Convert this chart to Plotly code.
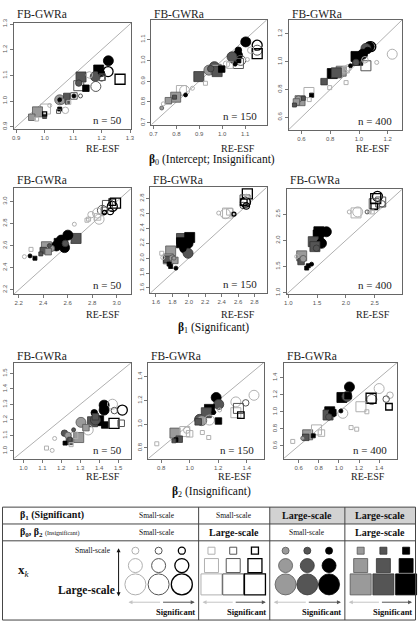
import plotly.graph_objects as go

W, H = 419, 627
SERIF = "Liberation Serif, Times New Roman, serif"
SANS = "Liberation Sans, Arial, sans-serif"

# ---------------- data (group code: kind oc/os/fc/fs + significance 0/1/2 + scale S/M/L) -------------
P1_X = [1.224, 1.223, 1.265, 1.190, 1.178, 1.128, 1.120, 1.200, 1.180, 1.145, 1.120, 1.157, 1.202, 1.200,
        1.053, 1.053, 1.078, 1.080, 1.103, 1.103, 1.126, 1.085, 1.073, 1.053, 1.049, 1.018, 1.003, 0.975,
        0.955, 0.972, 1.000, 1.000, 1.060]
P1_Y = [1.157, 1.115, 1.085, 1.121, 1.096, 1.094, 1.070, 1.108, 1.057, 1.050, 1.060, 1.102, 1.093, 1.090,
        1.005, 1.005, 1.018, 0.995, 1.020, 1.020, 1.020, 0.995, 0.964, 0.969, 0.960, 0.983, 0.969, 0.958,
        0.937, 0.930, 0.940, 0.950, 1.000]
P1_G = ["fc2L", "oc2L", "os2L", "fs2L", "fc1L", "fs1L", "fc1M", "fc2M", "oc1L", "fs2M", "os1L", "oc0M", "os1M", "oc1M",
        "fc0L", "fc2S", "fs1M", "fs1S", "os1M", "fc2S", "oc1S", "os0S", "oc0M", "fs2S", "os1S", "oc0S", "os0L", "fs0L",
        "fs0M", "os0S", "fs1S", "os2S", "fc0M"]

P2_X = [1.103, 1.153, 1.153, 1.153, 1.125, 1.071, 1.067, 1.060, 1.043, 1.110, 1.071, 1.081, 1.057, 1.034,
        1.019, 0.966, 0.942, 0.974, 0.978, 0.998, 0.950, 0.898, 0.927, 0.870, 0.822, 0.836, 0.797, 0.792,
        0.840, 0.765, 0.736, 0.743]
P2_Y = [1.089, 1.073, 1.049, 1.033, 1.049, 1.049, 1.025, 1.012, 1.017, 1.004, 0.985, 1.000, 0.982, 0.977,
        0.982, 0.970, 0.953, 0.957, 0.946, 0.958, 0.960, 0.922, 0.890, 0.866, 0.855, 0.855, 0.823, 0.823,
        0.834, 0.806, 0.771, 0.791]
P2_G = ["fc2L", "oc2L", "oc1L", "os2L", "oc0M", "fc2M", "fc2L", "fs2L", "fc1L", "oc0S", "os1L", "oc1L", "fc2S", "os0M",
        "oc0M", "fc1L", "fc0L", "fs0L", "fs1L", "fs2M", "fc1M", "fs1L", "os0S", "oc0S", "os0L", "oc0L", "fs0L", "fs1S",
        "fc2S", "fs0M", "fc0S", "oc0S"]

P3_X = [1.071, 1.082, 1.048, 1.231, 1.123, 0.979, 1.025, 0.991, 1.048, 1.041, 0.979, 0.941, 0.910, 0.925,
        0.876, 0.814, 0.842, 0.910, 0.757, 0.796, 0.652, 0.670, 0.590, 0.613, 0.579, 0.654, 0.551, 0.565, 1.060]
P3_Y = [1.107, 1.107, 1.095, 1.053, 0.994, 1.037, 1.053, 1.009, 0.970, 1.013, 0.994, 0.970, 0.942, 0.955,
        0.931, 0.914, 0.919, 0.849, 0.856, 0.813, 0.778, 0.759, 0.719, 0.736, 0.731, 0.727, 0.688, 0.710, 1.080]
P3_G = ["fc2L", "oc2L", "fc1L", "oc0L", "oc0S", "fs2L", "fc2L", "fs2L", "os1L", "oc0M", "fc1M", "fc2S", "os0M", "oc0M",
        "fs0L", "fs2L", "fs1L", "os0S", "fs1M", "os0S", "os0L", "fs2S", "fs0L", "fs1S", "fc0M", "os0S", "fs1S", "fs0M", "fc2M"]

P4_X = [2.964, 2.990, 2.924, 2.883, 2.964, 2.947, 2.900, 2.843, 2.856, 2.843, 2.757, 2.790, 2.654, 2.770,
        2.900, 2.668, 2.601, 2.547, 2.507, 2.574, 2.570, 2.530, 2.580, 2.426, 2.466, 2.400, 2.440, 2.300,
        2.246, 2.292, 2.332, 2.380, 2.450]
P4_Y = [2.955, 2.985, 2.964, 2.920, 2.994, 2.910, 2.920, 2.895, 2.839, 2.860, 2.830, 2.880, 2.794, 2.840,
        2.900, 2.665, 2.695, 2.650, 2.597, 2.582, 2.640, 2.620, 2.620, 2.590, 2.575, 2.555, 2.545, 2.566,
        2.500, 2.507, 2.486, 2.525, 2.600]
P4_G = ["oc2L", "os2L", "os1L", "oc1L", "os2M", "oc2M", "os1M", "oc0L", "oc0L", "os0M", "os0S", "oc0M", "oc0S", "os0S",
        "oc2S", "fs1L", "fc2L", "fc2L", "fc2L", "fc2L", "fc2M", "fs2L", "fc1M", "fs0L", "fc0M", "fs1M", "fs0M", "os0S",
        "oc0S", "fc2S", "fs2S", "fs1S", "fc1S"]

P5_X = [2.713, 2.685, 2.690, 2.661, 2.700, 2.670, 2.700, 2.472, 2.445, 2.500, 2.364, 2.532, 2.550, 1.911,
        2.011, 1.991, 1.951, 1.911, 2.000, 1.991, 1.930, 1.779, 1.750, 1.731, 1.800, 1.683, 1.671, 1.830,
        1.779, 1.843, 1.760, 1.820]
P5_Y = [2.860, 2.780, 2.750, 2.706, 2.700, 2.750, 2.830, 2.604, 2.595, 2.620, 2.604, 2.587, 2.590, 2.263,
        2.277, 2.197, 2.131, 2.206, 2.250, 2.065, 2.130, 2.096, 1.990, 1.985, 2.000, 2.007, 2.065, 1.970,
        1.888, 1.866, 1.920, 2.000]
P5_G = ["os2L", "os1L", "oc2L", "oc1M", "oc2M", "os2M", "oc0S", "os0L", "oc0L", "os0M", "oc0S", "os0S", "oc2S", "fs1L",
        "fs2L", "fc2L", "fc2L", "fs2L", "fc2M", "fc1L", "fc2M", "fs0L", "fs0L", "fs1M", "fc0M", "oc0S", "os0S", "fs0M",
        "fs2S", "fc2S", "fs2S", "fc0S"]

P6_X = [2.551, 2.607, 2.494, 2.520, 2.630, 2.494, 2.207, 2.178, 2.408, 2.460, 2.060, 2.370, 1.532, 1.662,
        1.520, 1.580, 1.434, 1.577, 1.463, 1.490, 1.233, 1.222, 1.147, 1.348, 1.405, 1.320, 1.260]
P6_Y = [2.843, 2.735, 2.703, 2.800, 2.700, 2.650, 2.545, 2.526, 2.545, 2.545, 2.545, 2.545, 2.165, 2.165,
        2.103, 2.140, 1.976, 1.944, 1.881, 1.850, 1.704, 1.596, 1.691, 1.515, 1.545, 1.470, 1.650]
P6_G = ["oc2L", "os1L", "os1L", "os2L", "oc1M", "os2M", "oc0L", "os0L", "oc0S", "os0S", "oc0S", "oc1S", "fs2L", "fc2L",
        "fs2L", "fc2M", "fs1L", "fc2L", "fs1L", "fc1M", "fs0L", "fs1M", "oc0S", "fs2S", "fc2S", "fs2S", "fc0M"]

P7_X = [1.426, 1.470, 1.522, 1.480, 1.426, 1.374, 1.478, 1.516, 1.397, 1.429, 1.365, 1.380, 1.304, 1.342,
        1.330, 1.380, 1.292, 1.270, 1.243, 1.217, 1.220, 1.252, 1.235, 1.165, 1.122, 1.152, 1.265, 1.245]
P7_Y = [1.295, 1.301, 1.263, 1.260, 1.263, 1.246, 1.178, 1.178, 1.195, 1.167, 1.188, 1.200, 1.184, 1.135,
        1.150, 1.220, 1.086, 1.100, 1.061, 1.114, 1.050, 1.040, 1.100, 1.080, 1.018, 1.003, 1.136, 1.075]
P7_G = ["fc2L", "oc0L", "oc2L", "oc1M", "fc2L", "fc2M", "os2L", "os1M", "fs2L", "fs2M", "fs1L", "fc1L", "fc0L", "oc0L",
        "fs0M", "fs1M", "fs0L", "os0M", "fs1M", "fc1M", "fs2S", "os0S", "fc0M", "oc0S", "os0S", "oc0S", "fc1S", "fs1S"]

P8_X = [1.186, 1.204, 1.451, 1.393, 1.324, 1.324, 1.342, 1.359, 1.139, 1.117, 1.202, 1.070, 1.085, 1.139,
        1.060, 1.210, 0.897, 0.927, 0.904, 0.966, 1.000, 0.980, 1.089, 1.134, 0.770, 0.890, 1.170]
P8_Y = [1.225, 1.167, 1.244, 1.180, 1.188, 1.097, 1.133, 1.077, 1.125, 1.097, 1.027, 1.041, 1.030, 1.035,
        1.020, 1.120, 0.925, 0.874, 0.869, 0.938, 0.919, 0.950, 0.930, 0.888, 0.835, 0.860, 1.100]
P8_G = ["fc2L", "fc1L", "oc0L", "oc1M", "oc0L", "os0L", "os1L", "os2M", "fs2L", "fs1L", "fs2M", "fc1L", "fc0L", "oc0L",
        "fs1M", "oc0S", "fs0L", "fs1M", "fs2S", "os0L", "os0M", "oc0M", "os0S", "os0S", "os0S", "fs1S", "fc2S"]

P9_X = [1.105, 1.030, 1.080, 1.090, 1.400, 1.327, 1.320, 1.508, 1.470, 1.498, 1.219, 1.278, 0.909, 0.892,
        0.930, 1.039, 1.020, 0.940, 0.900, 1.121, 1.177, 0.689, 0.670, 0.777, 0.826, 0.745, 0.541, 0.640]
P9_Y = [1.293, 1.169, 1.180, 1.190, 1.274, 1.146, 1.160, 1.196, 1.150, 1.060, 1.060, 1.001, 1.001, 0.963,
        0.990, 0.983, 1.010, 0.990, 0.940, 0.815, 0.796, 0.730, 0.700, 0.788, 0.750, 0.718, 0.652, 0.690]
P9_G = ["fc2L", "fs2L", "fc1L", "fs2M", "oc0L", "oc1L", "os2L", "oc0M", "oc1M", "os2M", "os0L", "os0S", "fs2L", "fs1L",
        "fc2M", "oc0L", "fc2S", "fs2M", "fc1M", "os0S", "os0S", "fs0L", "fs1M", "os0L", "os0M", "fs2S", "os0S", "fc0S"]

TICKS_B0_50 = [0.9, 1.0, 1.1, 1.2, 1.3]
TICKS_B0_150 = [0.7, 0.8, 0.9, 1.0, 1.1]
TICKS_B0_400 = [0.6, 0.8, 1.0, 1.2]
TICKS_B1_50 = [2.2, 2.4, 2.6, 2.8, 3.0]
TICKS_B1_150 = [1.6, 1.8, 2.0, 2.2, 2.4, 2.6, 2.8]
TICKS_B1_400 = [1.0, 1.5, 2.0, 2.5]
TICKS_B2_50 = [1.0, 1.1, 1.2, 1.3, 1.4, 1.5]
TICKS_B2_150 = [0.8, 1.0, 1.2, 1.4]
TICKS_B2_400X = [0.6, 0.8, 1.0, 1.2, 1.4, 1.6]
TICKS_B2_400Y = [0.6, 0.8, 1.0, 1.2, 1.4]

N_LABELS = ["n = 50", "n = 150", "n = 400"]
SECTION_TITLES = ["<b>β</b><sub>0</sub> (Intercept; Insignificant)",
                  "<b>β</b><sub>1</sub> (Significant)",
                  "<b>β</b><sub>2</sub> (Insignificant)"]
HDR_B1 = ["Small-scale", "Small-scale", "Large-scale", "Large-scale"]
HDR_B02 = ["Small-scale", "Large-scale", "Small-scale", "Large-scale"]
LEG_KINDS = ["oc", "os", "fc", "fs"]
LEG_SIG = ["0", "1", "2"]
LEG_SCALE = ["S", "M", "L"]

# ---------------- styles ----------------
OPEN_LINE = {"0": "#b0b0b0", "1": "#555555", "2": "#000000"}
FILL = {"0": "#9a9a9a", "1": "#555555", "2": "#000000"}
FILL_LINE = {"0": "#555555", "1": "#333333", "2": "#000000"}
PSIZE = {"S": 4, "M": 6.5, "L": 10}
LSIZE = {"S": 7, "M": 14, "L": 21}
SYMBOL = {"c": "circle", "s": "square"}


def marker_arrays(groups, sizemap, open_w=1.0):
    sym, col, lcol, siz, lw = [], [], [], [], []
    for g in groups:
        kind, sig, sc = g[:2], g[2], g[3]
        sym.append(SYMBOL[kind[1]])
        siz.append(sizemap[sc])
        if kind[0] == "o":
            col.append("rgba(0,0,0,0)")
            lcol.append(OPEN_LINE[sig])
            lw.append(open_w if sig != "2" else open_w * 1.3)
        else:
            col.append(FILL[sig])
            lcol.append(FILL_LINE[sig])
            lw.append(0.8)
    return sym, col, lcol, siz, lw


# panel layout: box in pixels (left, right, top, bottom), common x/y range
PANELS = [
    (P1_X, P1_Y, P1_G, (12, 131, 19, 126), (0.892, 1.305), TICKS_B0_50, TICKS_B0_50, 0),
    (P2_X, P2_Y, P2_G, (151, 268, 16, 122), (0.690, 1.195), TICKS_B0_150, TICKS_B0_150, 1),
    (P3_X, P3_Y, P3_G, (290, 405, 16, 127), (0.510, 1.300), TICKS_B0_400, TICKS_B0_400, 2),
    (P4_X, P4_Y, P4_G, (12, 131, 186, 293), (2.160, 3.120), TICKS_B1_50, TICKS_B1_50, 0),
    (P5_X, P5_Y, P5_G, (150, 268, 185, 292), (1.530, 2.950), TICKS_B1_150, TICKS_B1_150, 1),
    (P6_X, P6_Y, P6_G, (288, 405, 187, 293), (0.970, 2.980), TICKS_B1_400, TICKS_B1_400, 2),
    (P7_X, P7_Y, P7_G, (12, 131, 362, 459), (0.950, 1.570), TICKS_B2_50, TICKS_B2_50, 0),
    (P8_X, P8_Y, P8_G, (148, 265, 362, 459), (0.710, 1.520), TICKS_B2_150, TICKS_B2_150, 1),
    (P9_X, P9_Y, P9_G, (285, 400, 362, 459), (0.450, 1.580), TICKS_B2_400X, TICKS_B2_400Y, 2),
]
ROW_FB_Y = [10, 178, 355]
ROW_RE_Y = [146, 313, 477]
ROW_TITLE = [(213, 158), (214, 327), (212, 493)]

fig = go.Figure()
layout = dict(width=W, height=H, margin=dict(l=0, r=0, t=0, b=0), showlegend=False,
              paper_bgcolor="white", plot_bgcolor="rgba(0,0,0,0)")
shapes, annotations = [], []
SCALE_ORDER = {"L": 0, "M": 1, "S": 2}

for i, (xs, ys, gs, box, rng, xt, yt, col) in enumerate(PANELS, start=1):
    l, r, t, b = box
    order = sorted(range(len(gs)), key=lambda k: SCALE_ORDER[gs[k][3]])
    gx = [xs[k] for k in order]
    gy = [ys[k] for k in order]
    gg = [gs[k] for k in order]
    sym, c, lc, sz, lw = marker_arrays(gg, PSIZE)
    fig.add_trace(go.Scatter(x=gx, y=gy, mode="markers", xaxis=f"x{i}", yaxis=f"y{i}",
                             marker=dict(symbol=sym, color=c, size=sz, opacity=1,
                                         line=dict(color=lc, width=lw)),
                             hoverinfo="skip"))
    common = dict(showline=True, mirror=True, linecolor="#666", linewidth=1, showgrid=False, zeroline=False,
                  ticks="outside", ticklen=3, tickwidth=1, tickcolor="#777",
                  tickfont=dict(family=SANS, size=6, color="#555"))
    layout[f"xaxis{i}"] = dict(domain=[l / W, r / W], range=list(rng), anchor=f"y{i}",
                               tickvals=xt, ticktext=[f"{v:.1f}" for v in xt], **common)
    layout[f"yaxis{i}"] = dict(domain=[1 - b / H, 1 - t / H], range=list(rng), anchor=f"x{i}",
                               tickvals=yt, ticktext=[f"{v:.1f}" for v in yt], tickangle=-90, **common)
    shapes.append(dict(type="line", xref=f"x{i}", yref=f"y{i}", x0=rng[0], y0=rng[0], x1=rng[1], y1=rng[1],
                       line=dict(color="#b0b0b0", width=1), layer="below"))
    row = (i - 1) // 3
    annotations.append(dict(text="FB-GWRa", xref="paper", yref="paper", x=(l + 1) / W, y=1 - ROW_FB_Y[row] / H,
                            xanchor="left", yanchor="middle", showarrow=False,
                            font=dict(family=SERIF, size=11.5, color="#222")))
    annotations.append(dict(text="RE-ESF", xref="paper", yref="paper", x=(r - 10) / W, y=1 - ROW_RE_Y[row] / H,
                            xanchor="right", yanchor="middle", showarrow=False,
                            font=dict(family=SERIF, size=10, color="#222")))
    annotations.append(dict(text=N_LABELS[col], xref="paper", yref="paper", x=(r - 8) / W, y=1 - (b - 9) / H,
                            xanchor="right", yanchor="middle", showarrow=False,
                            font=dict(family=SERIF, size=11, color="#222")))

for (tx, ty), txt in zip(ROW_TITLE, SECTION_TITLES):
    annotations.append(dict(text=txt, xref="paper", yref="paper", x=tx / W, y=1 - ty / H,
                            xanchor="center", yanchor="middle", showarrow=False,
                            font=dict(family=SERIF, size=11.5, color="#111")))

# ---------------- legend table (pixel-space helper axis) ----------------
T_TOP, R1, R2, T_BOT = 508, 525, 542, 622
COL_EDGES = [118, 199, 271, 347, 419]
layout["xaxis10"] = dict(domain=[0, 1], range=[0, W], visible=False, anchor="y10", fixedrange=True)
layout["yaxis10"] = dict(domain=[0, (H - 500) / H], range=[H, 500], visible=False, anchor="x10", fixedrange=True)

# grey header cells (beta1 large-scale columns)
for c in (2, 3):
    shapes.append(dict(type="rect", xref="x10", yref="y10", x0=COL_EDGES[c], x1=COL_EDGES[c + 1],
                       y0=T_TOP, y1=R1, fillcolor="#d2d2d2", line=dict(width=0), layer="below"))
for yy in (T_TOP, R1, R2, T_BOT):
    shapes.append(dict(type="line", xref="x10", yref="y10", x0=0.5, x1=W - 0.5, y0=yy, y1=yy,
                       line=dict(color="#444", width=1)))
for xx in COL_EDGES[1:4]:
    shapes.append(dict(type="line", xref="x10", yref="y10", x0=xx, x1=xx, y0=T_TOP, y1=T_BOT,
                       line=dict(color="#444", width=1)))
for xx in (0.5, W - 0.5):
    shapes.append(dict(type="line", xref="x10", yref="y10", x0=xx, x1=xx, y0=T_TOP, y1=T_BOT,
                       line=dict(color="#444", width=1)))

# header texts
annotations.append(dict(text="<b>β<sub>1</sub> (Significant)</b>", xref="x10", yref="y10", x=16, y=(T_TOP + R1) / 2,
                        xanchor="left", yanchor="middle", showarrow=False, font=dict(family=SERIF, size=10, color="#111")))
annotations.append(dict(text="<b>β<sub>0</sub>, β<sub>2</sub></b> <span style='font-size:6px'>(Insignificant)</span>",
                        xref="x10", yref="y10", x=16, y=(R1 + R2) / 2,
                        xanchor="left", yanchor="middle", showarrow=False, font=dict(family=SERIF, size=10, color="#111")))
for c in range(4):
    cx = 157 if c == 0 else (COL_EDGES[c] + COL_EDGES[c + 1]) / 2
    for txt, yy in ((HDR_B1[c], (T_TOP + R1) / 2), (HDR_B02[c], (R1 + R2) / 2)):
        big = txt.startswith("Large")
        annotations.append(dict(text=f"<b>{txt}</b>" if big else txt, xref="x10", yref="y10", x=cx, y=yy,
                                xanchor="center", yanchor="middle", showarrow=False,
                                font=dict(family=SERIF, size=10 if big else 7.5, color="#111")))

# x_k row labels
annotations.append(dict(text="<b>x</b><sub><i>k</i></sub>", xref="x10", yref="y10", x=14, y=572, xanchor="left",
                        yanchor="middle", showarrow=False, font=dict(family=SERIF, size=13, color="#111")))
annotations.append(dict(text="Small-scale", xref="x10", yref="y10", x=112, y=552, xanchor="right",
                        yanchor="middle", showarrow=False, font=dict(family=SERIF, size=7.5, color="#111")))
annotations.append(dict(text="<b>Large-scale</b>", xref="x10", yref="y10", x=116, y=592, xanchor="right",
                        yanchor="middle", showarrow=False, font=dict(family=SERIF, size=11.5, color="#111")))
annotations.append(dict(text="", xref="x10", yref="y10", x=118, y=598, ax=118, ay=548, axref="x10", ayref="y10",
                        showarrow=True, arrowhead=2, arrowsize=0.8, arrowwidth=1, arrowcolor="#111",
                        arrowside="end+start"))

# legend glyphs
LEG_X0 = [135, 212, 287, 363]
LEG_DX = [23.5, 22, 22, 23]
LEG_Y = {"S": 552, "M": 567, "L": 586}
lx, ly, lg = [], [], []
for c, kind in enumerate(LEG_KINDS):
    for s_i, sig in enumerate(LEG_SIG):
        for sc in LEG_SCALE:
            lx.append(LEG_X0[c] + LEG_DX[c] * s_i)
            ly.append(LEG_Y[sc])
            lg.append(kind + sig + sc)
sym, c_, lc, sz, lw = marker_arrays(lg, LSIZE, open_w=1.0)
fig.add_trace(go.Scatter(x=lx, y=ly, mode="markers", xaxis="x10", yaxis="y10", cliponaxis=False,
                         marker=dict(symbol=sym, color=c_, size=sz, opacity=1, line=dict(color=lc, width=lw)),
                         hoverinfo="skip"))

# significance arrows and labels
for c in range(4):
    x0, x1 = COL_EDGES[c], COL_EDGES[c + 1]
    if c == 0:
        x0 = 124
    mid = (x0 + x1) / 2
    annotations.append(dict(text="", xref="x10", yref="y10", x=x0 + 4, y=604, ax=mid, ay=604,
                            axref="x10", ayref="y10", showarrow=True, arrowhead=2, arrowsize=0.8,
                            arrowwidth=1, arrowcolor="#c4c4c4"))
    annotations.append(dict(text="", xref="x10", yref="y10", x=x1 - 4, y=604, ax=mid, ay=604,
                            axref="x10", ayref="y10", showarrow=True, arrowhead=2, arrowsize=0.8,
                            arrowwidth=1, arrowcolor="#555"))
    annotations.append(dict(text="<b>Significant</b>", xref="x10", yref="y10", x=x1 - 2, y=614,
                            xanchor="right", yanchor="middle", showarrow=False,
                            font=dict(family=SERIF, size=8.5, color="#111")))

layout["shapes"] = shapes
layout["annotations"] = annotations
fig.update_layout(**layout)
fig.write_html("out.html")
